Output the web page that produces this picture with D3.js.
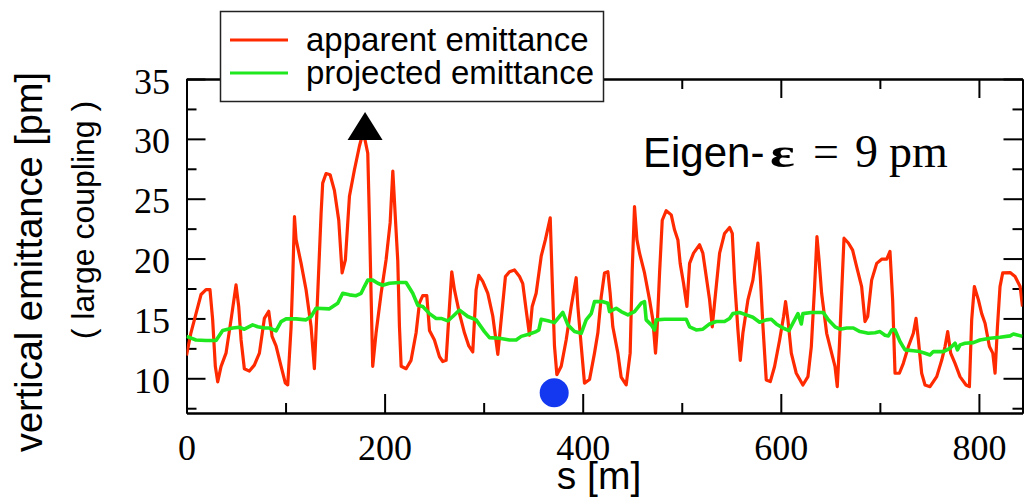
<!DOCTYPE html>
<html>
<head>
<meta charset="utf-8">
<script src="https://cdn.jsdelivr.net/npm/d3@7"></script>
<style>
  html, body { margin: 0; padding: 0; background: #fff; }
  svg { display: block; }
</style>
</head>
<body>
<svg id="chart" width="1028" height="498"></svg>
<script>
// ---------------- DATA ----------------
const apparentS = [0, 4.5, 9.6, 14.7, 19.7, 23.7, 26.4, 29.1, 31.5, 34.9, 39.9, 45, 50, 52.7, 55.1, 58.4, 63.5, 68.5, 73.6, 78.6, 83, 86.4, 90.4, 95.5, 99.8, 102.2, 105.6, 107.2, 109, 110.6, 115.7, 120.7, 125.8, 129.1, 132.5, 135.9, 137.5, 140.9, 145, 149.3, 153.7, 157.1, 160.4, 164.5, 169.5, 174.6, 178.5, 183, 184.7, 186.4, 188, 191.4, 196.5, 201.5, 205.6, 208.3, 211, 213.3, 215, 216.7, 221.7, 226.7, 231.8, 235.2, 238.5, 242.6, 245.3, 250.3, 255.4, 258.7, 262.1, 265.5, 267.8, 270.5, 275.6, 280.6, 285, 289, 292.4, 295.1, 299.1, 304.2, 309.2, 314.3, 317.7, 322, 326.1, 331.1, 336.2, 339.5, 342.9, 346.3, 349, 353, 358.1, 362.4, 367.2, 369.2, 371.5, 373.9, 378.3, 383.3, 388.4, 393.4, 395.1, 398.5, 401.8, 406.9, 411.9, 415.3, 418.7, 422, 425.4, 427.7, 430.4, 435.5, 438.8, 443.9, 447.9, 450, 452.3, 454.7, 457.4, 462.4, 467.5, 470.8, 473.5, 474.9, 477.6, 480.3, 484.3, 489.4, 492.7, 496.1, 498.4, 501.8, 505.2, 507.9, 511.9, 518, 521.3, 524.7, 528.1, 530.8, 533.1, 538.2, 543.2, 548.3, 551, 553.3, 556.7, 559.1, 561.7, 566.8, 571.8, 576.9, 579.3, 582, 585.3, 589.4, 593.7, 598.8, 602.8, 604.8, 607.2, 610.6, 615.6, 622.3, 627.4, 630.8, 634.1, 636.5, 638.5, 641.2, 646.3, 651.3, 654.7, 657, 659.1, 661.4, 663.8, 668.2, 672.5, 676.6, 681.6, 685, 687.7, 691.7, 696.8, 701.8, 706.9, 710.2, 712.9, 715.3, 719.7, 723.7, 728.8, 733.8, 736.5, 738.9, 742.2, 745.6, 750.6, 757.4, 762.4, 765.8, 768.5, 771.5, 775.9, 780.9, 787, 790.4, 792.7, 795.4, 799.5, 802.8, 806.2, 810.6, 814, 816.3, 818.7, 821.3, 824, 831.5, 836.5, 841.6, 844];
const apparentV = [11.9, 13.8, 15.4, 17.0, 17.4, 17.4, 14.9, 11.0, 9.7, 11.0, 12.1, 14.9, 17.8, 16.0, 13.2, 10.8, 10.6, 11.1, 12.1, 15.0, 15.6, 13.5, 12.7, 11.0, 9.6, 9.45, 14.3, 18.2, 23.5, 21.6, 19.6, 17.4, 14.3, 10.8, 17.1, 23.8, 26.3, 27.1, 27.0, 25.7, 23.2, 18.8, 19.9, 25.2, 27.4, 29.4, 30.6, 28.8, 23.2, 16.8, 11.0, 13.8, 17.1, 19.9, 23.0, 27.3, 23.2, 19.8, 14.3, 11.0, 10.8, 11.5, 13.8, 16.3, 16.9, 16.9, 14.0, 13.2, 11.8, 11.4, 11.5, 16.0, 18.9, 17.4, 15.4, 13.8, 12.7, 12.2, 17.4, 18.6, 18.1, 17.1, 15.2, 12.0, 14.9, 18.5, 18.9, 19.05, 18.5, 17.9, 15.7, 13.6, 16.0, 17.1, 20.2, 21.6, 23.4, 18.2, 12.7, 10.3, 11.0, 13.2, 16.0, 18.4, 16.0, 12.7, 9.6, 9.9, 12.1, 13.8, 16.8, 18.8, 18.9, 17.1, 14.3, 12.1, 10.1, 9.45, 12.1, 19.05, 24.35, 21.6, 20.45, 18.8, 16.55, 14.9, 12.1, 13.76, 18.8, 23.2, 24.0, 23.65, 22.4, 21.56, 19.6, 17.94, 16.0, 19.6, 20.45, 21.15, 20.45, 18.5, 16.55, 14.3, 16.27, 20.45, 22.1, 22.6, 22.1, 18.2, 14.04, 11.5, 13.76, 16.55, 18.2, 21.3, 18.5, 14.3, 9.86, 9.72, 10.98, 13.2, 15.16, 16.4, 14.88, 12.1, 10.42, 9.44, 10.14, 12.65, 17.66, 21.84, 20.0, 17.1, 13.76, 12.1, 11.0, 9.3, 12.65, 17.1, 21.7, 21.3, 20.7, 19.3, 17.66, 14.74, 15.16, 18.2, 19.6, 19.95, 19.95, 20.6, 16.55, 10.42, 10.42, 11.25, 12.65, 13.76, 15.0, 13.2, 10.42, 9.44, 9.3, 10.14, 11.5, 12.65, 13.9, 12.1, 11.25, 10.14, 9.44, 9.3, 14.88, 17.66, 16.55, 15.4, 14.6, 12.65, 12.1, 10.42, 14.3, 17.66, 18.8, 18.83, 18.5, 17.66, 16.0];

const projectedS = [0, 9.6, 19.7, 29.8, 36.5, 46.6, 53.4, 58.4, 66.8, 71.9, 78.6, 83.7, 90.4, 95.5, 100.5, 110.6, 120.7, 125.8, 130.8, 144.3, 152.7, 157.7, 164.5, 171.2, 176.3, 179.6, 183, 188, 193.1, 198.1, 204.9, 215, 221.7, 228.4, 233.5, 238.5, 245.3, 252, 257.1, 263.8, 268.8, 275.6, 284, 292.4, 300.8, 305.9, 316, 326.1, 332.8, 337.9, 346.3, 353, 355.7, 358.1, 364.8, 371.5, 376.6, 379.9, 385, 391.7, 398.5, 403.5, 408.6, 411.9, 420.4, 425.4, 427.1, 433.8, 438.8, 445.6, 452.3, 459.1, 462.4, 464.1, 469.2, 472.5, 474.2, 482.6, 491, 504.5, 507.9, 514.6, 521.3, 528.1, 534.8, 543.2, 548.3, 551.6, 558.4, 565.1, 571.8, 578.6, 585.3, 590.4, 595.4, 602.1, 608.2, 612.2, 617.3, 620.7, 622.3, 630.8, 642.9, 648, 654.7, 659.7, 666.5, 673.2, 679.9, 688.4, 695.1, 700.1, 705.2, 708.6, 712, 715.3, 720.3, 725.4, 733.8, 740.5, 745.6, 750.6, 754, 764.1, 770.8, 775.9, 778.3, 781, 786, 794.4, 801.1, 811.2, 821.3, 831.5, 834.8, 844];
const projectedV = [13.5, 13.2, 13.15, 13.15, 14.0, 14.2, 14.26, 14.1, 14.46, 14.3, 14.2, 14.2, 13.96, 14.74, 14.96, 14.96, 14.88, 15.16, 15.85, 15.8, 16.27, 17.1, 16.97, 16.9, 17.1, 17.66, 18.2, 18.2, 17.94, 17.77, 17.94, 18.0, 18.0, 17.1, 16.1, 16.0, 15.4, 15.0, 15.0, 14.8, 15.16, 15.7, 15.16, 14.88, 13.9, 13.4, 13.35, 13.2, 13.2, 13.5, 13.7, 13.9, 14.04, 14.93, 14.8, 14.65, 15.16, 15.5, 14.46, 13.9, 13.76, 14.88, 15.4, 16.4, 16.4, 16.27, 15.57, 15.85, 15.57, 15.3, 15.57, 16.27, 16.4, 14.88, 14.46, 14.04, 14.88, 14.93, 14.93, 14.93, 14.3, 14.04, 14.1, 14.54, 14.74, 14.74, 15.0, 15.4, 15.5, 15.3, 15.1, 14.68, 14.88, 14.93, 14.54, 14.2, 13.98, 14.6, 15.4, 14.54, 15.4, 15.5, 15.5, 14.88, 14.3, 14.1, 14.2, 14.2, 13.9, 13.76, 13.8, 13.9, 13.6, 13.54, 14.04, 14.04, 13.07, 12.37, 12.3, 12.23, 12.09, 11.95, 12.23, 12.23, 12.5, 12.93, 12.37, 12.79, 12.93, 12.98, 13.2, 13.35, 13.43, 13.54, 13.7, 13.5];

const xMajorTicks = [0, 200, 400, 600, 800];
const xMinorTicks = [100, 300, 500, 700];
const yMajorTicks = [10, 15, 20, 25, 30, 35];
const yMinorTicks = [7.5, 12.5, 17.5, 22.5, 27.5, 32.5];

const seriesNames = ["apparent emittance", "projected emittance"];
const peakMarker = { s: 180.3, v: 29.9 };   // black triangle (base point)
const minMarker = { s: 371.2, v: 8.79 };    // blue dot

const xTitle = "s [m]";
const yTitle = "vertical emittance [pm]";
const ySubTitle = "( large coupling )";

// ---------------- DRAW ----------------
const RED = "#ff2a00", GREEN = "#1fe81f", BLUE = "#1438f0";
const SANS = "'Liberation Sans', Arial, Helvetica, sans-serif";
const SERIF = "'Liberation Serif', 'Times New Roman', serif";

const svg = d3.select("#chart");
svg.append("rect").attr("width", 1028).attr("height", 498).attr("fill", "#fff");

const L = 186.5, R = 1022.5, T = 79, B = 413;
const x = d3.scaleLinear().domain([0, 844]).range([L, R]);
const y = d3.scaleLinear().domain([7.1, 35]).range([B, T]);

function styleAxis(g) {
  g.selectAll("path.domain").attr("stroke", "#000").attr("stroke-width", 2);
  g.selectAll(".tick line").attr("stroke", "#000").attr("stroke-width", 2);
}

// Bottom axis (major with labels)
const gB = svg.append("g").attr("transform", `translate(0,${B})`)
  .call(d3.axisBottom(x).tickValues(xMajorTicks).tickSize(-19).tickSizeOuter(0).tickPadding(21).tickFormat(d3.format("d")));
gB.selectAll("text").attr("font-family", SERIF).attr("font-size", 36).attr("fill", "#000");
styleAxis(gB);
const gBm = svg.append("g").attr("transform", `translate(0,${B})`)
  .call(d3.axisBottom(x).tickValues(xMinorTicks).tickSize(-10).tickSizeOuter(0).tickFormat(""));
styleAxis(gBm);

// Top axis (mirror, no labels)
const gT = svg.append("g").attr("transform", `translate(0,${T})`)
  .call(d3.axisTop(x).tickValues(xMajorTicks).tickSize(-19).tickSizeOuter(0).tickFormat(""));
styleAxis(gT);
const gTm = svg.append("g").attr("transform", `translate(0,${T})`)
  .call(d3.axisTop(x).tickValues(xMinorTicks).tickSize(-10).tickSizeOuter(0).tickFormat(""));
styleAxis(gTm);

// Left axis
const gL = svg.append("g").attr("transform", `translate(${L},0)`)
  .call(d3.axisLeft(y).tickValues(yMajorTicks).tickSize(-19).tickSizeOuter(0).tickPadding(16.5).tickFormat(d3.format("d")));
gL.selectAll("text").attr("font-family", SERIF).attr("font-size", 36).attr("fill", "#000").attr("dy", "0.39em");
styleAxis(gL);
const gLm = svg.append("g").attr("transform", `translate(${L},0)`)
  .call(d3.axisLeft(y).tickValues(yMinorTicks).tickSize(-10).tickSizeOuter(0).tickFormat(""));
styleAxis(gLm);

// Right axis
const gR = svg.append("g").attr("transform", `translate(${R},0)`)
  .call(d3.axisRight(y).tickValues(yMajorTicks).tickSize(-19).tickSizeOuter(0).tickFormat(""));
styleAxis(gR);
const gRm = svg.append("g").attr("transform", `translate(${R},0)`)
  .call(d3.axisRight(y).tickValues(yMinorTicks).tickSize(-10).tickSizeOuter(0).tickFormat(""));
styleAxis(gRm);

// Clip
svg.append("clipPath").attr("id", "plotclip").append("rect")
  .attr("x", L).attr("y", T).attr("width", R - L).attr("height", B - T);

const line = d3.line().x(d => x(d[0])).y(d => y(d[1]));
const apparent = apparentS.map((s, i) => [s, apparentV[i]]);
const projected = projectedS.map((s, i) => [s, projectedV[i]]);

const plot = svg.append("g").attr("clip-path", "url(#plotclip)");
plot.append("path").datum(apparent).attr("d", line)
  .attr("fill", "none").attr("stroke", RED).attr("stroke-width", 3.2).attr("stroke-linejoin", "round");
plot.append("path").datum(projected).attr("d", line)
  .attr("fill", "none").attr("stroke", GREEN).attr("stroke-width", 3.6).attr("stroke-linejoin", "round");

// Markers
const tx = x(peakMarker.s), ty = y(peakMarker.v);
svg.append("path")
  .attr("d", `M${tx - 17.5},${ty} L${tx + 17.5},${ty} L${tx},${ty - 28} Z`)
  .attr("fill", "#000");
svg.append("circle").attr("cx", x(minMarker.s)).attr("cy", y(minMarker.v)).attr("r", 14.5).attr("fill", BLUE);

// Legend
const lg = svg.append("g");
lg.append("rect").attr("x", 220.5).attr("y", 11.5).attr("width", 383).attr("height", 90)
  .attr("fill", "#fff").attr("stroke", "#222").attr("stroke-width", 1.5);
const legendColors = [RED, GREEN];
seriesNames.forEach((name, i) => {
  const ly = 40 + i * 33;
  lg.append("line").attr("x1", 230).attr("x2", 288).attr("y1", ly).attr("y2", ly)
    .attr("stroke", legendColors[i]).attr("stroke-width", 3.2);
  lg.append("text").attr("x", 306).attr("y", ly + 11)
    .attr("font-family", SANS).attr("font-size", 33).attr("fill", "#000").text(name);
});

// Annotation "Eigen-ε = 9 pm"
const ann = svg.append("g");
ann.append("text").attr("x", 643).attr("y", 167).attr("font-family", SANS).attr("font-size", 42).attr("fill", "#000").text("Eigen-");
ann.append("text").attr("transform", "translate(770,167) scale(1.45,1)").attr("font-family", SERIF)
  .attr("font-weight", "bold").attr("font-size", 40).attr("fill", "#000").text("ε");
ann.append("text").attr("x", 813).attr("y", 167).attr("font-family", SERIF).attr("font-size", 46).attr("fill", "#000").text("=");
ann.append("text").attr("x", 855).attr("y", 167).attr("font-family", SERIF).attr("font-size", 46).attr("fill", "#000").text("9");
ann.append("text").attr("x", 889).attr("y", 167).attr("font-family", SERIF).attr("font-size", 46).attr("fill", "#000").text("pm");

// Axis titles
svg.append("text").attr("x", 599).attr("y", 489).attr("text-anchor", "middle")
  .attr("font-family", SANS).attr("font-size", 39).attr("fill", "#000").text(xTitle);
svg.append("text").attr("transform", "translate(42,262) rotate(-90)").attr("text-anchor", "middle")
  .attr("font-family", SANS).attr("font-size", 38).attr("fill", "#000").text(yTitle);
svg.append("text").attr("transform", "translate(94,220) rotate(-90)").attr("text-anchor", "middle")
  .attr("font-family", SANS).attr("font-size", 32).attr("fill", "#000").text(ySubTitle);
</script>
</body>
</html>
